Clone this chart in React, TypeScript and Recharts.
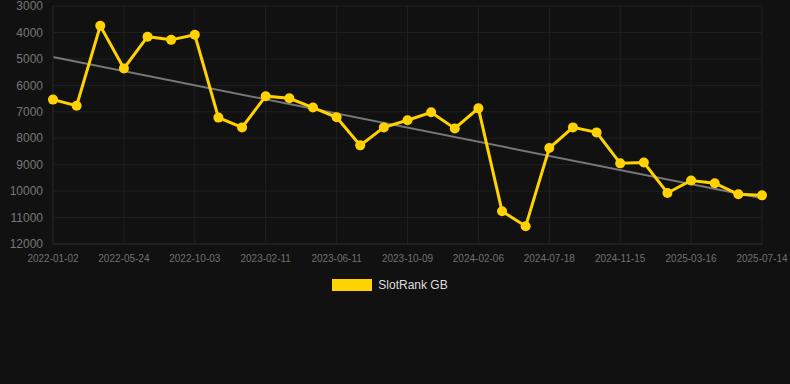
import { LineChart, Line, XAxis, YAxis, CartesianGrid, Legend } from 'recharts';

const dates = [
  '2022-01-02', '2022-02-18', '2022-04-07', '2022-05-24', '2022-07-08', '2022-08-19',
  '2022-10-03', '2022-11-15', '2022-12-29', '2023-02-11', '2023-03-23', '2023-05-02',
  '2023-06-11', '2023-07-21', '2023-08-30', '2023-10-09', '2023-11-18', '2023-12-28',
  '2024-02-06', '2024-03-30', '2024-05-24', '2024-07-18', '2024-08-27', '2024-10-06',
  '2024-11-15', '2024-12-25', '2025-02-04', '2025-03-16', '2025-04-25', '2025-06-04',
  '2025-07-14',
];

const rankGB = [
  6540, 6770, 3750, 5360, 4160, 4280, 4090, 7220, 7590, 6410, 6490,
  6840, 7210, 8270, 7590, 7320, 7020, 7630, 6870, 10760, 11330,
  8370, 7590, 7780, 8950, 8920, 10070, 9600, 9700, 10120, 10160,
];

// trend line endpoints (first and last date)
const trendEnds = [4930, 10270];

const yTicks = [3000, 4000, 5000, 6000, 7000, 8000, 9000, 10000, 11000, 12000];

const data = dates.map((d, i) => ({
  date: d,
  rank: rankGB[i],
  trend: i === 0 ? trendEnds[0] : i === dates.length - 1 ? trendEnds[1] : null,
}));

const renderLegend = () => (
  <div style={{ display: 'flex', justifyContent: 'center', alignItems: 'center', gap: 6, marginLeft: -10 }}>
    <span style={{ display: 'inline-block', width: 40, height: 12, background: '#ffd200' }} />
    <span style={{ color: '#dddddd', fontSize: 12 }}>SlotRank GB</span>
  </div>
);

export default function App() {
  return (
    <div style={{ width: 790, height: 384, background: '#111111', fontFamily: '"Liberation Sans", Arial, sans-serif' }}>
      <style>{'body{margin:0;background:#111111;}'}</style>
      <LineChart width={790} height={384} data={data} margin={{ top: 6, right: 28, left: 8, bottom: 96 }}>
        <CartesianGrid stroke="#202020" strokeWidth={1} />
        <XAxis
          dataKey="date"
          interval={2}
          tick={{ fill: '#707070', fontSize: 10 }}
          tickLine={false}
          axisLine={{ stroke: '#262626' }}
          tickMargin={5}
        />
        <YAxis
          reversed
          domain={[3000, 12000]}
          ticks={yTicks}
          interval={0}
          width={45}
          tick={{ fill: '#777777', fontSize: 12 }}
          tickLine={false}
          axisLine={{ stroke: '#202020' }}
          tickMargin={4}
        />
        <Legend content={renderLegend} wrapperStyle={{ top: 278, left: 0, width: 790 }} />
        <Line
          dataKey="trend"
          stroke="#777777"
          strokeWidth={2}
          dot={false}
          connectNulls
          legendType="none"
          isAnimationActive={false}
        />
        <Line
          dataKey="rank"
          name="SlotRank GB"
          stroke="#ffd200"
          strokeWidth={3}
          dot={{ r: 5, fill: '#ffd200', stroke: '#ffd200', strokeWidth: 0 }}
          activeDot={false}
          isAnimationActive={false}
        />
      </LineChart>
    </div>
  );
}
